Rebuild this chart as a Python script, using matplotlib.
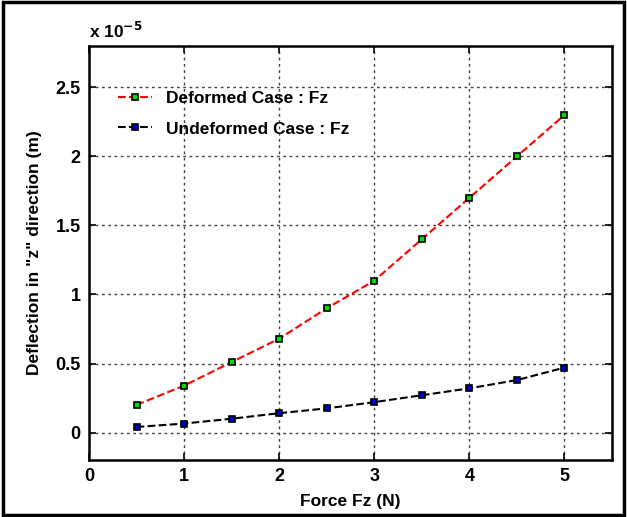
import matplotlib
matplotlib.use("Agg")
import matplotlib.pyplot as plt
import numpy as np
from matplotlib.ticker import FuncFormatter
from matplotlib.patches import Rectangle

# Force values (N)
force = [0.5, 1.0, 1.5, 2.0, 2.5, 3.0, 3.5, 4.0, 4.5, 5.0]
# Deflection in z (x 1e-5 m)
deformed = [0.20, 0.34, 0.51, 0.68, 0.90, 1.10, 1.40, 1.70, 2.00, 2.30]
undeformed = [0.04, 0.065, 0.10, 0.14, 0.175, 0.22, 0.27, 0.32, 0.38, 0.47]

scale = 1e-5
x_ticks = [0, 1, 2, 3, 4, 5]
y_ticks = [0, 0.5, 1, 1.5, 2, 2.5]

plt.rcParams['font.family'] = ['Liberation Sans', 'DejaVu Sans']
plt.rcParams['font.weight'] = 'bold'

fig = plt.figure(figsize=(6.27, 5.17), dpi=100)
ax = fig.add_axes([0.142, 0.110, 0.834, 0.801])

# outer frame around the whole figure
fig.patches.append(Rectangle((0.004, 0.004), 0.992, 0.992, transform=fig.transFigure,
                             fill=False, edgecolor='black', linewidth=2.5))

ax.plot(force, np.array(deformed) * scale, linestyle='--', color='red', linewidth=1.5,
        marker='s', markersize=5, markerfacecolor='#00dd00', markeredgecolor='black',
        markeredgewidth=1.2, label='Deformed Case : Fz')
ax.plot(force, np.array(undeformed) * scale, linestyle='--', color='black', linewidth=1.5,
        marker='s', markersize=5, markerfacecolor='#0000cc', markeredgecolor='black',
        markeredgewidth=1.2, label='Undeformed Case : Fz')

ax.set_xlim(0, 5.5)
ax.set_ylim(-0.2 * scale, 2.8 * scale)
ax.set_xticks(x_ticks)
ax.set_yticks([v * scale for v in y_ticks])
ax.yaxis.set_major_formatter(FuncFormatter(lambda v, p: f"{v / scale:g}"))

ax.grid(True, linestyle=(0, (2, 2.5)), color='#222222', linewidth=1.0, alpha=0.85)
ax.tick_params(direction='in', top=True, right=True, labelsize=13, width=1.2, length=5, pad=6)
for sp in ax.spines.values():
    sp.set_linewidth(1.8)

ax.set_xlabel('Force Fz (N)', fontsize=12.5, fontweight='bold', labelpad=6)
ax.set_ylabel('Deflection in "z" direction (m)', fontsize=12.5, fontweight='bold', labelpad=10)
ax.text(0.0, 1.012, r'x 10$^{-5}$', transform=ax.transAxes, fontsize=12.5,
        fontweight='bold', ha='left', va='bottom')

ax.legend(loc='upper left', bbox_to_anchor=(0.025, 0.93), frameon=False,
          handlelength=2.0, labelspacing=0.9, prop={'weight': 'bold', 'size': 12.5})

fig.savefig('out.png', dpi=100)
